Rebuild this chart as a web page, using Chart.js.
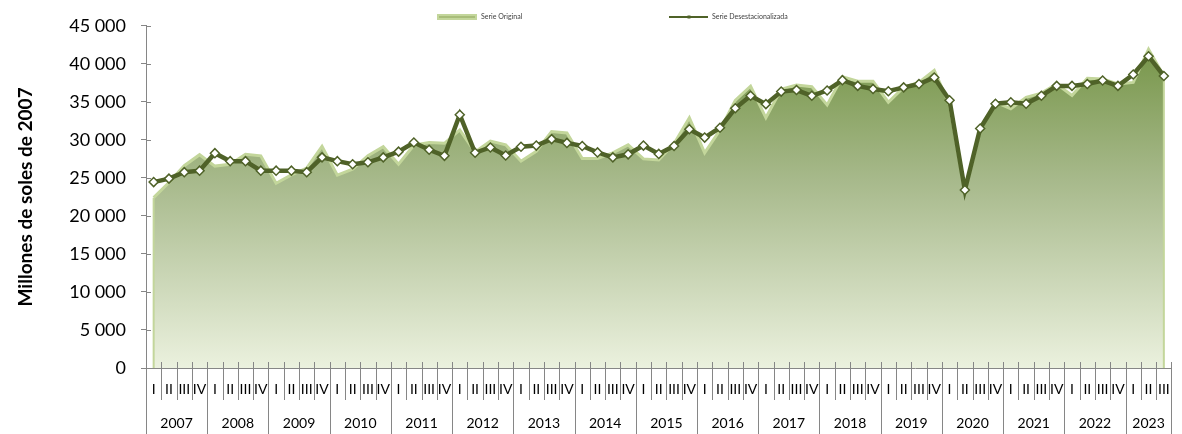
<!DOCTYPE html>
<html>
<head>
<meta charset="utf-8">
<script src="https://cdn.jsdelivr.net/npm/chart.js@4.4.0/dist/chart.umd.min.js"></script>
<style>
  body { margin: 0; background: #fff; }
  #grafico { display: block; }
</style>
</head>
<body>
<canvas id="grafico" width="1182" height="434"></canvas>
<script>
// datos trimestrales, millones de soles de 2007
var years = ['2007', '2008', '2009', '2010', '2011', '2012', '2013', '2014', '2015',
             '2016', '2017', '2018', '2019', '2020', '2021', '2022', '2023'];
var quarters = ['I', 'II', 'III', 'IV'];
var quartersLastYear = 3;

var serieOriginal = [
    22400, 24400, 26600, 28050,
    26550, 26800, 28100, 27900,
    24300, 25400, 26300, 29150,
    25350, 26150, 27900, 29100,
    26800, 29300, 29650, 29550,
    31300, 28400, 29850, 29350,
    27200, 28500, 31100, 30900,
    27550, 27550, 28300, 29350,
    27500, 27350, 29500, 32900,
    28300, 31300, 35200, 37050,
    32900, 36650, 37200, 37000,
    34600, 38300, 37700, 37700,
    34950, 36900, 37550, 39150,
    34600, 23300, 31300, 34950,
    34100, 35600, 36150, 37350,
    35850, 38100, 38000, 37350,
    37550, 41900, 38400
];

var serieDesestacionalizada = [
    24450, 24900, 25750, 25950,
    28250, 27200, 27200, 25950,
    25950, 25950, 25750, 27700,
    27200, 26800, 27050, 27700,
    28450, 29650, 28700, 27900,
    33300, 28300, 29000, 27950,
    29100, 29250, 30100, 29600,
    29200, 28350, 27700, 28100,
    29250, 28150, 29200, 31400,
    30300, 31600, 34150, 35800,
    34700, 36350, 36550, 35800,
    36500, 37850, 37100, 36700,
    36400, 36900, 37350, 38200,
    35200, 23400, 31500, 34750,
    34950, 34750, 35800, 37100,
    37100, 37350, 37800, 37100,
    38600, 41000, 38400
];

var yMax = 45000;
var yStep = 5000;

var colorLinea = '#4f6228';
var colorBorde = '#c3d69b';
var colorEje = '#868686';

// etiquetas de trimestre y el año de cada una
var labels = [];
var labelYears = [];
years.forEach(function (yr, i) {
    var n = i === years.length - 1 ? quartersLastYear : quarters.length;
    for (var q = 0; q < n; q++) {
        labels.push(quarters[q]);
        labelYears.push(yr);
    }
});

function miles(v) {
    if (v < 1000) return String(v);
    return Math.floor(v / 1000) + ' ' + String(v % 1000).padStart(3, '0');
}

// separadores del eje X, etiquetas de años y marcas internas del eje Y
var ejeAgrupado = {
    id: 'ejeAgrupado',
    afterDraw: function (chart) {
        var ctx = chart.ctx;
        var sx = chart.scales.x;
        var sy = chart.scales.y;
        var w = sx.width / labels.length;
        var base = sy.bottom;
        ctx.save();
        ctx.strokeStyle = colorEje;
        ctx.lineWidth = 1;
        ctx.beginPath();
        for (var i = 0; i <= labels.length; i++) {
            var px = Math.round(sx.getPixelForValue(i) - w / 2) + 0.5;
            var nuevoAnio = i === labels.length || labels[i] === quarters[0];
            ctx.moveTo(px, base - 6);
            ctx.lineTo(px, nuevoAnio ? chart.height : base + 32);
        }
        sy.ticks.forEach(function (t) {
            var py = Math.round(sy.getPixelForValue(t.value)) + 0.5;
            ctx.moveTo(sy.right, py);
            ctx.lineTo(sy.right + 5, py);
        });
        ctx.stroke();

        ctx.font = '14px Lato';
        ctx.fillStyle = '#000';
        ctx.textAlign = 'center';
        ctx.textBaseline = 'middle';
        var inicio = 0;
        years.forEach(function (yr) {
            var n = labelYears.filter(function (l) { return l === yr; }).length;
            var cx = (sx.getPixelForValue(inicio) + sx.getPixelForValue(inicio + n - 1)) / 2;
            ctx.fillText(yr, cx, 423);
            inicio += n;
        });
        ctx.restore();
    }
};

// bordes verticales del area (como en Excel)
var bordesArea = {
    id: 'bordesArea',
    afterDatasetDraw: function (chart, args) {
        if (args.index !== 1) return;
        var pts = args.meta.data;
        var ctx = chart.ctx;
        var base = chart.scales.y.getPixelForValue(0);
        ctx.save();
        ctx.strokeStyle = colorBorde;
        ctx.lineWidth = 2;
        ctx.beginPath();
        ctx.moveTo(pts[0].x, pts[0].y);
        ctx.lineTo(pts[0].x, base);
        ctx.moveTo(pts[pts.length - 1].x, pts[pts.length - 1].y);
        ctx.lineTo(pts[pts.length - 1].x, base);
        ctx.stroke();
        ctx.restore();
    }
};

var leyenda = {
    id: 'leyenda',
    afterDraw: function (chart) {
        var ctx = chart.ctx;
        ctx.save();
        ctx.fillStyle = colorBorde;
        ctx.fillRect(437, 14, 40, 6);
        ctx.strokeStyle = '#9fb56f';
        ctx.lineWidth = 1.5;
        ctx.beginPath();
        ctx.moveTo(439, 17);
        ctx.lineTo(475, 17);
        ctx.stroke();

        ctx.strokeStyle = colorLinea;
        ctx.lineWidth = 2;
        ctx.beginPath();
        ctx.moveTo(669, 17);
        ctx.lineTo(708, 17);
        ctx.stroke();
        ctx.fillStyle = colorLinea;
        ctx.fillRect(687.5, 15.5, 3, 3);

        ctx.font = '7px Lato';
        ctx.fillStyle = '#404040';
        ctx.textAlign = 'left';
        ctx.textBaseline = 'middle';
        ctx.fillText(chart.data.datasets[1].label, 481, 17);
        ctx.fillText(chart.data.datasets[0].label, 712, 17);
        ctx.restore();
    }
};

window.onload = function () {
    var ctx = document.getElementById('grafico').getContext('2d');
    var grafico = new Chart(ctx, {
        type: 'line',
        data: {
            labels: labels,
            datasets: [
                {
                    label: 'Serie Desestacionalizada',
                    data: serieDesestacionalizada,
                    borderColor: colorLinea,
                    borderWidth: 4.5,
                    tension: 0,
                    fill: false,
                    pointStyle: 'rectRot',
                    pointRadius: 4.5,
                    pointBorderWidth: 1.5,
                    pointBorderColor: colorLinea,
                    pointBackgroundColor: '#ffffff',
                    order: 0
                },
                {
                    label: 'Serie Original',
                    data: serieOriginal,
                    borderColor: colorBorde,
                    borderWidth: 3,
                    tension: 0,
                    pointRadius: 0,
                    fill: 'origin',
                    backgroundColor: function (context) {
                        var area = context.chart.chartArea;
                        if (!area) return null;
                        var g = context.chart.ctx.createLinearGradient(0, area.top, 0, area.bottom);
                        g.addColorStop(0, '#6f903e');
                        g.addColorStop(0.45, '#a7b98b');
                        g.addColorStop(1, '#ebf1de');
                        return g;
                    },
                    order: 1
                }
            ]
        },
        options: {
            responsive: false,
            animation: false,
            devicePixelRatio: 1,
            layout: {
                padding: { top: 21, right: 10.5, bottom: 0, left: 0 }
            },
            plugins: {
                legend: { display: false },
                tooltip: { enabled: false }
            },
            scales: {
                x: {
                    offset: true,
                    grid: { display: false },
                    border: { display: true, color: colorEje, width: 1 },
                    ticks: {
                        autoSkip: false,
                        maxRotation: 0,
                        minRotation: 0,
                        padding: 5,
                        color: '#000',
                        font: { family: 'Lato', size: 14 }
                    },
                    afterFit: function (scale) { scale.height = 66; }
                },
                y: {
                    min: 0,
                    max: yMax,
                    grid: {
                        drawOnChartArea: false,
                        drawTicks: true,
                        tickLength: 5,
                        color: colorEje
                    },
                    border: { display: true, color: colorEje, width: 1 },
                    ticks: {
                        stepSize: yStep,
                        padding: 15,
                        color: '#000',
                        font: { family: 'Lato', size: 18 },
                        callback: function (v) { return miles(v); }
                    },
                    title: {
                        display: true,
                        text: 'Millones de soles de 2007',
                        color: '#000',
                        font: { family: 'Lato', size: 19, weight: 'bold' },
                        padding: { top: 14, bottom: 0 }
                    },
                    afterFit: function (scale) { scale.width = 146; }
                }
            }
        },
        plugins: [ejeAgrupado, bordesArea, leyenda]
    });
};
</script>
</body>
</html>
